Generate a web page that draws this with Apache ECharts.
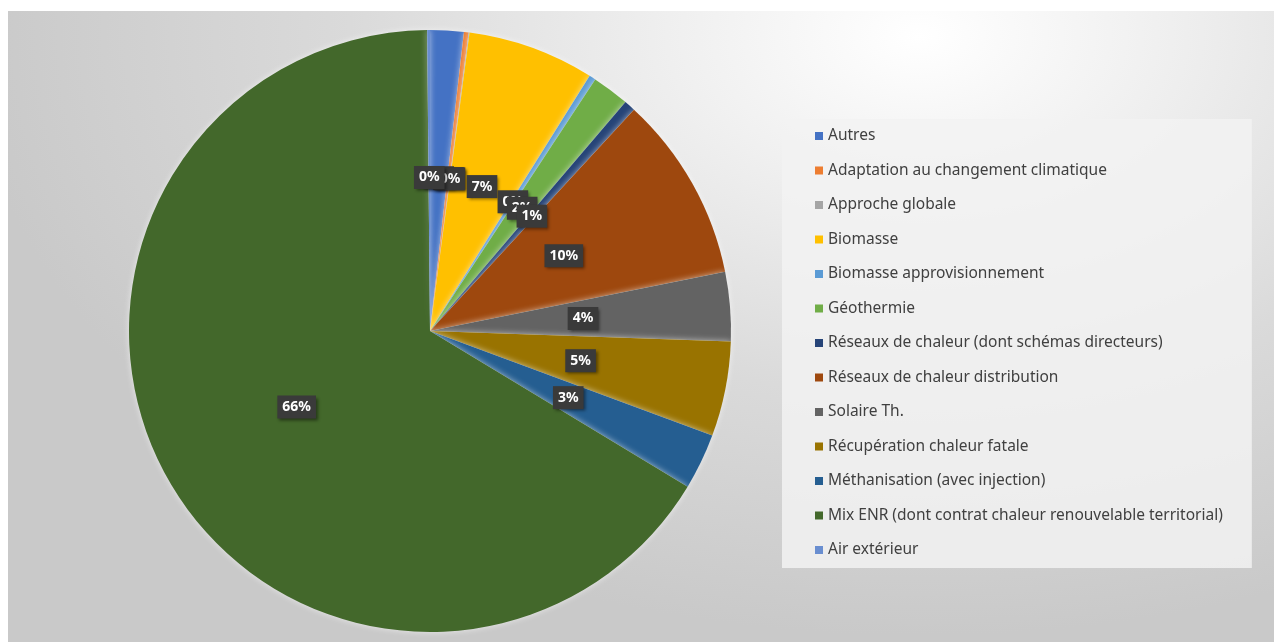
<!DOCTYPE html>
<html>
<head>
<meta charset="utf-8">
<script src="https://cdn.jsdelivr.net/npm/echarts@6/dist/echarts.min.js"></script>
<style>
  html, body { margin: 0; padding: 0; background: #ffffff; width: 1274px; height: 642px; overflow: hidden; }
  #wrap { position: absolute; left: 8px; top: 11px; width: 1266px; height: 631px;
    background: radial-gradient(ellipse 75% 95% at 72% 4%, #ffffff 0%, #f0f0f0 25%, #dadada 60%, #c9c9c9 100%); }
  #chart { width: 1266px; height: 631px; }
</style>
</head>
<body>
<div id="wrap"><div id="chart"></div></div>
<script>
const categories = [
  'Autres',
  'Adaptation au changement climatique',
  'Approche globale',
  'Biomasse',
  'Biomasse approvisionnement',
  'Géothermie',
  'Réseaux de chaleur (dont schémas directeurs)',
  'Réseaux de chaleur distribution',
  'Solaire Th.',
  'Récupération chaleur fatale',
  'Méthanisation (avec injection)',
  'Mix ENR (dont contrat chaleur renouvelable territorial)',
  'Air extérieur'
];
const values = [1.8, 0.25, 0.05, 6.8, 0.35, 2.0, 0.6, 10.0, 3.7, 5.1, 3.0, 66.2, 0.15];
const colors = ['#4472C4', '#ED7D31', '#A5A5A5', '#FFC000', '#5B9BD5', '#70AD47', '#264478',
                '#9E480E', '#636363', '#997300', '#255E91', '#43682B', '#698ED0'];

const chart = echarts.init(document.getElementById('chart'), null, { renderer: 'canvas' });
chart.setOption({
  animation: false,
  color: colors,
  legend: {
    orient: 'vertical',
    left: 774,
    top: 108,
    data: categories,
    icon: 'rect',
    itemWidth: 8,
    itemHeight: 8,
    itemGap: 18.5,
    backgroundColor: 'rgba(242,242,242,0.85)',
    padding: [9, 29, 10, 33],
    textStyle: { color: '#404040', fontSize: 15.5, fontFamily: 'Noto Sans', lineHeight: 16 },
    selectedMode: false
  },
  series: [{
    type: 'pie',
    center: [422, 320],
    radius: 301,
    startAngle: 90,
    clockwise: true,
    avoidLabelOverlap: false,
    labelLayout: { hideOverlap: false },
    data: categories.map((c, i) => ({ name: c, value: values[i] })),
    label: {
      show: true,
      position: 'inside',
      formatter: p => Math.round(p.percent) + '%',
      color: '#ffffff',
      fontWeight: 'bold',
      fontSize: 14,
      fontFamily: 'Noto Sans',
      backgroundColor: '#3a3a3a',
      padding: [5, 5, 4, 5],
      shadowColor: 'rgba(0,0,0,0.45)',
      shadowBlur: 3,
      shadowOffsetX: 2,
      shadowOffsetY: 2
    },
    labelLine: { show: false },
    itemStyle: { borderWidth: 0, shadowColor: 'rgba(255,255,255,0.6)', shadowBlur: 6 },
    emphasis: { disabled: true }
  }]
});
</script>
</body>
</html>
